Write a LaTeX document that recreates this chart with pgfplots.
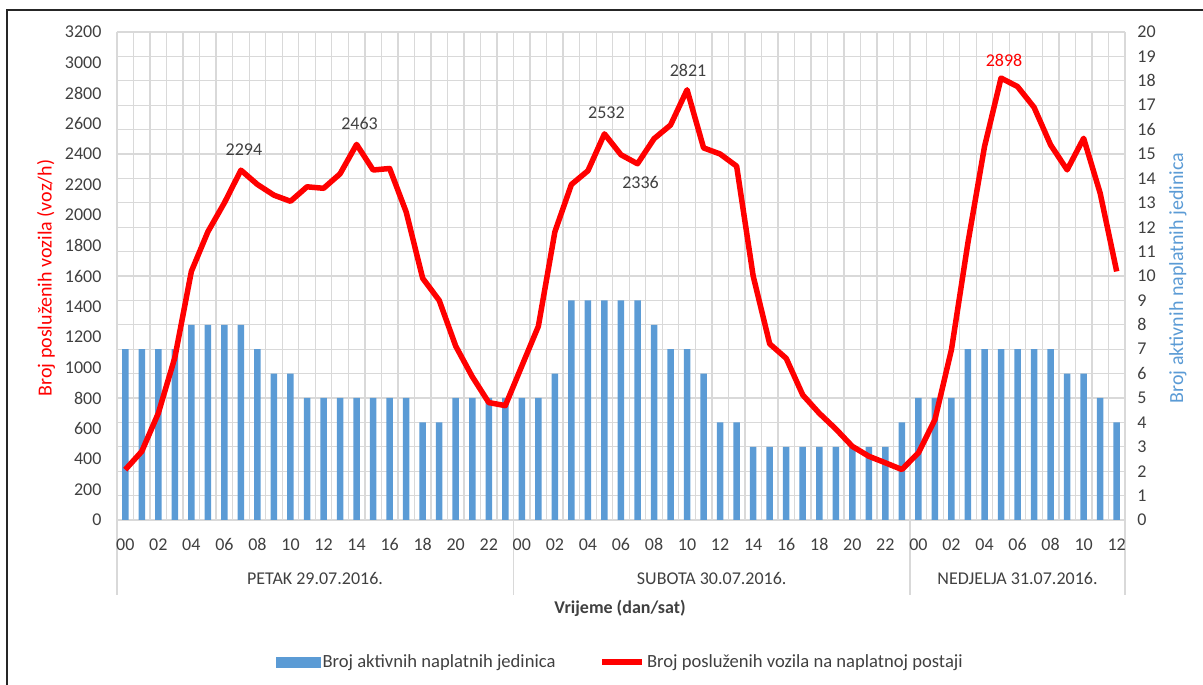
\documentclass[border=0pt]{standalone}
\usepackage{fontspec}
\setmainfont{Carlito}
\usepackage{pgfplots}
\pgfplotsset{compat=1.18}
\definecolor{barblue}{HTML}{5B9BD5}
\definecolor{gridgray}{HTML}{D9D9D9}
\definecolor{txt}{HTML}{404040}
\begin{document}
\begin{tikzpicture}[font=\fontsize{18}{22}\selectfont]
\path[use as bounding box] (-117pt,-165pt) rectangle (1086pt,520pt);
\draw[black!85, line width=1.2pt] (-110pt,-166pt) -- (-110pt,510pt) -- (1087pt,510pt);
\draw[gridgray, line width=1.3pt] (0pt,0pt) -- (0pt,-75pt);
\draw[gridgray, line width=1.3pt] (396.5pt,0pt) -- (396.5pt,-75pt);
\draw[gridgray, line width=1.3pt] (793pt,0pt) -- (793pt,-75pt);
\draw[gridgray, line width=1.3pt] (1008pt,0pt) -- (1008pt,-75pt);

\begin{axis}[
  at={(0pt,0pt)}, anchor=south west,
  width=1008pt, height=488pt, scale only axis,
  xmin=-0.5, xmax=60.5, ymin=0, ymax=20,
  axis y line*=right, axis x line*=bottom,
  axis line style={draw=none},
  xtick={0,2,...,60},
  xticklabels={00,02,04,06,08,10,12,14,16,18,20,22,00,02,04,06,08,10,12,14,16,18,20,22,00,02,04,06,08,10,12},
  minor xtick={-0.5,0.5,...,60.5},
  xminorgrids,
  ytick={0,1,...,20},
  ymajorgrids,
  major grid style={gridgray, line width=1.3pt},
  minor grid style={gridgray, line width=1.3pt},
  major tick length=0pt, minor tick length=0pt,
  tick label style={font=\fontsize{18}{22}\selectfont, text=txt},
  /pgf/number format/assume math mode=true,
  yticklabel style={xshift=9pt},
  xticklabel style={yshift=-15pt},
  ybar, bar width=6.5pt,
  clip=false,
]
\addplot[fill=barblue, draw=none] coordinates {
(0,7)(1,7)(2,7)(3,7)(4,8)(5,8)(6,8)(7,8)(8,7)(9,6)(10,6)(11,5)(12,5)(13,5)(14,5)(15,5)(16,5)(17,5)(18,4)(19,4)(20,5)(21,5)(22,5)(23,5)
(24,5)(25,5)(26,6)(27,9)(28,9)(29,9)(30,9)(31,9)(32,8)(33,7)(34,7)(35,6)(36,4)(37,4)(38,3)(39,3)(40,3)(41,3)(42,3)(43,3)(44,3)(45,3)(46,3)(47,4)
(48,5)(49,5)(50,5)(51,7)(52,7)(53,7)(54,7)(55,7)(56,7)(57,6)(58,6)(59,5)(60,4)
};
\end{axis}

\begin{axis}[
  at={(0pt,0pt)}, anchor=south west,
  width=1008pt, height=488pt, scale only axis,
  xmin=-0.5, xmax=60.5, ymin=0, ymax=3200,
  axis y line*=left, hide x axis,
  axis line style={draw=none},
  ytick={0,200,...,3200},
  major tick length=0pt,
  tick label style={font=\fontsize{18}{22}\selectfont, text=txt},
  /pgf/number format/assume math mode=true,
  /pgf/number format/1000 sep={},
  yticklabel style={xshift=-12pt},
  clip=false,
  legend columns=2,
  legend cell align=left,
  legend style={at={(0.4995,-0.291)}, anchor=center, draw=none, fill=none,
    font=\fontsize{18.6}{22}\selectfont, text=txt,
    /tikz/every even column/.append style={column sep=42pt}},
]
\addlegendimage{legend image code/.code={\fill[barblue] (0pt,-5pt) rectangle (44pt,5pt);}}
\addlegendentry{Broj aktivnih naplatnih jedinica}
\addplot[red, line width=5.5pt, line join=round,
  legend image code/.code={\draw[red, line width=5.5pt] (0pt,0pt) -- (40pt,0pt);}] coordinates {
(0,330)(1,450)(2,700)(3,1065)(4,1630)(5,1890)(6,2080)(7,2294)(8,2200)(9,2130)(10,2090)(11,2185)(12,2175)(13,2270)(14,2463)(15,2295)(16,2305)(17,2020)(18,1585)(19,1440)(20,1140)(21,940)(22,770)(23,750)
(24,1010)(25,1270)(26,1890)(27,2200)(28,2290)(29,2532)(30,2395)(31,2336)(32,2500)(33,2590)(34,2821)(35,2440)(36,2400)(37,2320)(38,1600)(39,1155)(40,1060)(41,820)(42,700)(43,597)(44,483)(45,418)(46,375)(47,331)
(48,440)(49,658)(50,1117)(51,1820)(52,2448)(53,2898)(54,2842)(55,2706)(56,2460)(57,2296)(58,2503)(59,2143)(60,1630)
};
\addlegendentry{Broj posluženih vozila na naplatnoj postaji}
\node[text=txt, xshift=3pt, yshift=21pt] at (axis cs:7,2294) {2294};
\node[text=txt, xshift=3pt, yshift=21pt] at (axis cs:14,2463) {2463};
\node[text=txt, xshift=2pt, yshift=21pt] at (axis cs:29,2532) {2532};
\node[text=txt, xshift=3pt, yshift=-19pt] at (axis cs:31,2336) {2336};
\node[text=txt, xshift=1pt, yshift=19pt] at (axis cs:34,2821) {2821};
\node[text=red, xshift=3pt, yshift=18pt] at (axis cs:53,2898) {2898};
\end{axis}

\node[text=txt] at (198pt,-58pt) {PETAK 29.07.2016.};
\node[text=txt] at (594.7pt,-58pt) {SUBOTA 30.07.2016.};
\node[text=txt] at (900.5pt,-58pt) {NEDJELJA 31.07.2016.};
\node[text=txt, font=\fontsize{18}{22}\selectfont\bfseries] at (503pt,-88pt) {Vrijeme (dan/sat)};
\node[rotate=90, text=red, font=\fontsize{20}{24}\selectfont] at (-71pt,242pt) {Broj posluženih vozila (voz/h)};
\node[rotate=90, text=barblue, font=\fontsize{20}{24}\selectfont] at (1061pt,242pt) {Broj aktivnih naplatnih jedinica};
\end{tikzpicture}
\end{document}
